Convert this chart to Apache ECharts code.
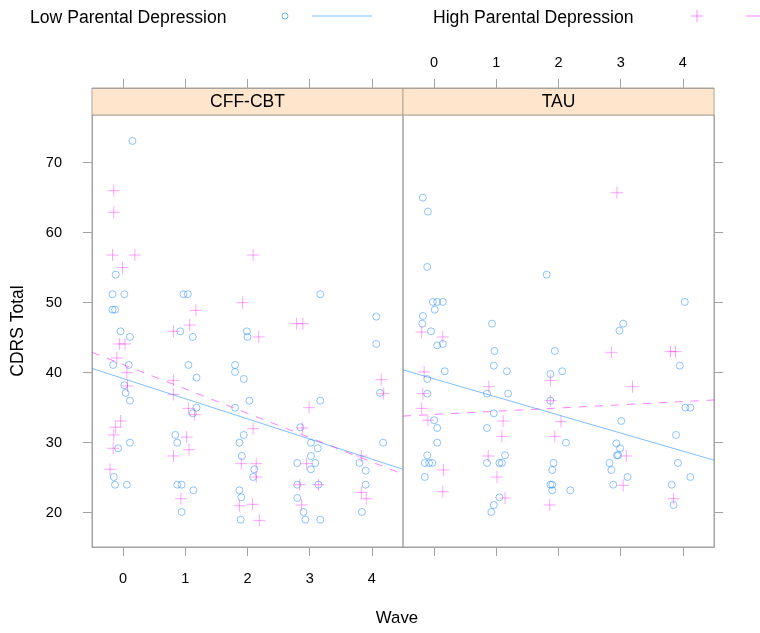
<!DOCTYPE html>
<html>
<head>
<meta charset="utf-8">
<script src="https://cdn.jsdelivr.net/npm/echarts@6/dist/echarts.min.js"></script>
<style>
  html, body { margin: 0; padding: 0; background: #fff; }
  #chart { width: 760px; height: 633px; }
</style>
</head>
<body>
<div id="chart"></div>
<script>
// panels and tick labels
const panels = ['CFF-CBT', 'TAU'];
const waveTicks = [0, 1, 2, 3, 4];
const scoreTicks = [20, 30, 40, 50, 60, 70];

// CFF-CBT, low parental depression (wave jittered, CDRS total)
const cffLow = [
  [0.15, 73.1], [-0.12, 54.0], [-0.17, 51.2], [0.02, 51.2], [-0.17, 49.0], [-0.13, 49.0],
  [-0.04, 45.9], [0.11, 45.1], [-0.16, 41.1], [0.09, 41.1], [0.02, 38.2], [0.04, 37.1],
  [0.11, 36.0], [0.11, 30.0], [-0.08, 29.2], [-0.15, 25.1], [-0.13, 24.0], [0.06, 24.0],
  [0.97, 51.2], [1.04, 51.2], [0.92, 45.9], [1.12, 45.1], [1.05, 41.1], [1.18, 39.3],
  [1.18, 35.0], [1.12, 34.2], [0.84, 31.1], [0.87, 30.0], [0.87, 24.0], [0.94, 24.0],
  [1.13, 23.2], [0.94, 20.1],
  [1.99, 45.9], [2.00, 45.1], [1.80, 41.1], [1.80, 40.1], [1.94, 39.1], [2.03, 36.0],
  [1.80, 35.0], [1.94, 31.1], [1.87, 30.0], [1.91, 28.1], [1.87, 23.2], [1.90, 22.2],
  [1.89, 19.0], [2.11, 26.2], [2.09, 25.1],
  [3.17, 51.2], [2.85, 32.2], [3.17, 36.0], [3.02, 30.0], [3.13, 29.2], [3.02, 28.1],
  [2.80, 27.1], [3.09, 27.1], [3.02, 26.2], [2.80, 24.0], [3.14, 24.0], [2.80, 22.1],
  [2.90, 20.1], [2.93, 19.0], [3.17, 19.0],
  [4.07, 48.0], [4.07, 44.1], [4.13, 37.1], [4.18, 30.0], [3.80, 27.1], [3.90, 26.0],
  [3.90, 24.0], [3.84, 20.1]
];

// CFF-CBT, high parental depression
const cffHigh = [
  [-0.15, 66.0], [-0.15, 62.9], [-0.17, 56.8], [0.19, 56.8], [-0.01, 55.0], [-0.06, 44.1],
  [0.03, 44.1], [-0.10, 42.1], [0.06, 40.0], [0.07, 38.1], [-0.04, 33.1], [-0.12, 32.2],
  [-0.15, 31.1], [-0.16, 29.2], [-0.21, 26.2],
  [1.17, 48.9], [1.07, 46.8], [0.81, 45.9], [0.81, 38.9], [0.81, 36.9], [1.05, 34.9],
  [1.15, 34.0], [1.02, 30.8], [1.06, 29.0], [0.81, 28.1], [0.93, 22.0],
  [2.09, 56.8], [1.92, 50.0], [2.18, 45.1], [1.90, 27.0], [1.87, 21.0], [2.09, 32.0],
  [2.14, 27.0], [2.14, 25.1], [2.08, 21.2], [2.19, 18.9],
  [2.79, 47.0], [2.89, 47.0], [2.99, 35.0], [2.88, 32.1], [2.95, 27.0], [2.84, 24.0],
  [3.14, 24.0], [2.87, 21.1],
  [4.15, 39.0], [4.19, 37.0], [3.83, 28.1], [3.83, 22.9], [3.91, 22.0]
];

// TAU, low parental depression
const tauLow = [
  [-0.18, 65.0], [-0.10, 63.0], [-0.11, 55.1], [-0.02, 50.1], [0.05, 50.1], [0.14, 50.1],
  [0.01, 49.0], [-0.18, 48.1], [-0.19, 47.0], [-0.05, 45.9], [0.05, 43.9], [0.14, 44.1],
  [0.17, 40.2], [-0.11, 39.1], [-0.11, 37.0], [0.00, 33.2], [0.05, 32.1], [0.05, 30.0],
  [-0.11, 28.2], [-0.15, 27.1], [-0.08, 27.1], [-0.03, 27.1], [-0.15, 25.1],
  [0.93, 47.0], [0.97, 43.1], [0.96, 41.0], [1.17, 40.2], [0.85, 37.0], [1.19, 37.0],
  [0.96, 34.2], [0.85, 32.1], [1.14, 28.2], [0.85, 27.1], [1.05, 27.1], [1.09, 27.1],
  [1.05, 22.2], [0.96, 21.1], [0.92, 20.1],
  [1.81, 54.0], [1.94, 43.1], [1.87, 39.8], [1.87, 36.0], [2.06, 40.2], [1.92, 27.1],
  [1.90, 26.1], [1.87, 24.0], [1.90, 24.0], [1.90, 23.2], [2.12, 30.0], [2.19, 23.2],
  [3.04, 47.0], [2.98, 46.0], [3.01, 33.1], [2.93, 29.9], [2.99, 29.2], [2.94, 28.2],
  [2.96, 28.2], [2.82, 27.1], [2.85, 26.1], [3.11, 25.1], [2.88, 24.0],
  [4.03, 50.1], [3.95, 41.0], [4.04, 35.0], [4.12, 35.0], [3.89, 31.1], [3.92, 27.1],
  [4.12, 25.1], [3.82, 24.0], [3.85, 21.1]
];

// TAU, high parental depression
const tauHigh = [
  [-0.20, 45.8], [0.14, 45.1], [-0.16, 40.1], [-0.18, 37.0], [-0.20, 34.9], [-0.10, 33.2],
  [0.15, 26.1], [0.14, 23.0],
  [0.88, 38.0], [1.11, 33.1], [1.09, 30.9], [0.87, 28.1], [1.01, 25.1], [1.14, 22.1],
  [1.87, 38.9], [1.87, 36.0], [1.94, 30.9], [1.86, 21.1], [2.04, 33.0],
  [2.94, 65.7], [2.85, 42.9], [3.19, 38.0], [3.09, 28.1], [3.04, 23.9],
  [3.80, 43.0], [3.88, 43.0], [3.85, 22.0]
];

// fitted lines (ends at the panel edges)
const cffLowFit = [[-0.5, 40.6], [4.5, 26.2]];
const cffHighFit = [[-0.5, 42.9], [4.5, 25.5]];
const tauLowFit = [[-0.5, 40.4], [4.5, 27.5]];
const tauHighFit = [[-0.5, 33.8], [4.5, 36.1]];

const BLUE = 'rgba(0,120,245,0.55)';
const PINK = 'rgba(255,0,255,0.45)';
const BORDER = '#a3a3a3';
const FONT = 'Liberation Sans, Arial, sans-serif';
const PLUS = 'path://M0,5L10,5M5,0L5,10';

const STRIP_TOP = 88;
const PANEL_TOP = 115;
const PANEL_H = 432;
const PANEL_W = 311;
const lefts = [92, 403];

const chart = echarts.init(document.getElementById('chart'), null, { renderer: 'canvas' });

// top axes sit above the strip, like lattice does
const xAxis = (grid, position, labels) => ({
  type: 'value',
  gridIndex: grid,
  position: position,
  offset: position === 'top' ? PANEL_TOP - STRIP_TOP : 0,
  min: -0.5,
  max: 4.5,
  axisLine: { show: true, onZero: false, lineStyle: { color: BORDER } },
  axisTick: { show: true, inside: false, length: 9, customValues: waveTicks, lineStyle: { color: BORDER } },
  axisLabel: {
    show: labels,
    customValues: waveTicks,
    margin: position === 'top' ? 18 : 24,
    color: '#000',
    fontSize: 14.5,
    fontFamily: FONT
  },
  splitLine: { show: false }
});

const yAxis = (grid, position, labels) => ({
  type: 'value',
  gridIndex: grid,
  position: position,
  min: 15.1,
  max: 76.8,
  axisLine: { show: true, onZero: false, lineStyle: { color: BORDER } },
  axisTick: { show: true, inside: false, length: 9, customValues: scoreTicks, lineStyle: { color: BORDER } },
  axisLabel: {
    show: labels,
    customValues: scoreTicks,
    margin: 30,
    color: '#000',
    fontSize: 14.5,
    fontFamily: FONT
  },
  splitLine: { show: false }
});

const points = (data, xi, yi, hi) => ({
  type: 'scatter',
  xAxisIndex: xi,
  yAxisIndex: yi,
  data: data,
  silent: true,
  symbol: hi ? PLUS : 'circle',
  symbolSize: hi ? 12 : 7,
  itemStyle: {
    color: 'transparent',
    borderColor: hi ? PINK : BLUE,
    borderWidth: 1
  }
});

const fitLine = (data, xi, yi, hi) => ({
  type: 'line',
  xAxisIndex: xi,
  yAxisIndex: yi,
  data: data,
  silent: true,
  symbol: 'none',
  lineStyle: {
    color: hi ? 'rgba(255,0,255,0.5)' : 'rgba(0,128,255,0.5)',
    width: 1,
    type: hi ? [8, 8] : 'solid'
  }
});

const strips = [];
panels.forEach((name, i) => {
  strips.push({
    type: 'rect',
    shape: { x: lefts[i], y: STRIP_TOP, width: PANEL_W, height: PANEL_TOP - STRIP_TOP },
    style: { fill: '#ffe5cc', stroke: '#b5a592', lineWidth: 1 }
  });
  strips.push({
    type: 'text',
    x: lefts[i] + PANEL_W / 2,
    y: 102,
    style: { text: name, fontSize: 17.5, fontFamily: FONT, fill: '#000', align: 'center', verticalAlign: 'middle' }
  });
});

const legend = [
  {
    type: 'text', x: 30, y: 18,
    style: { text: 'Low Parental Depression', fontSize: 17.6, fontFamily: FONT, fill: '#000', align: 'left', verticalAlign: 'middle' }
  },
  { type: 'circle', shape: { cx: 285, cy: 16, r: 3 }, style: { fill: 'none', stroke: BLUE, lineWidth: 1 } },
  { type: 'line', shape: { x1: 312, y1: 16, x2: 372, y2: 16 }, style: { stroke: 'rgba(0,128,255,0.5)', lineWidth: 1 } },
  {
    type: 'text', x: 433, y: 18,
    style: { text: 'High Parental Depression', fontSize: 17.6, fontFamily: FONT, fill: '#000', align: 'left', verticalAlign: 'middle' }
  },
  { type: 'line', shape: { x1: 691, y1: 16, x2: 703, y2: 16 }, style: { stroke: PINK, lineWidth: 1 } },
  { type: 'line', shape: { x1: 697, y1: 10, x2: 697, y2: 22 }, style: { stroke: PINK, lineWidth: 1 } },
  { type: 'line', shape: { x1: 746, y1: 16, x2: 760, y2: 16 }, style: { stroke: 'rgba(255,0,255,0.5)', lineWidth: 1 } }
];

const titles = [
  {
    type: 'text', x: 397, y: 618,
    style: { text: 'Wave', fontSize: 16.8, fontFamily: FONT, fill: '#000', align: 'center', verticalAlign: 'middle' }
  },
  {
    type: 'text', x: 18, y: 331, rotation: Math.PI / 2,
    style: { text: 'CDRS Total', fontSize: 17.5, fontFamily: FONT, fill: '#000', align: 'center', verticalAlign: 'middle' }
  }
];

chart.setOption({
  backgroundColor: '#fff',
  animation: false,
  grid: lefts.map(l => ({
    left: l,
    top: PANEL_TOP,
    width: PANEL_W,
    height: PANEL_H,
    show: true,
    borderColor: BORDER,
    borderWidth: 1,
    backgroundColor: 'transparent',
    containLabel: false,
    outerBoundsMode: 'none'
  })),
  xAxis: [
    xAxis(0, 'bottom', true),
    xAxis(0, 'top', false),
    xAxis(1, 'top', true),
    xAxis(1, 'bottom', false)
  ],
  yAxis: [
    yAxis(0, 'left', true),
    yAxis(1, 'right', false)
  ],
  series: [
    points(cffLow, 0, 0, false),
    points(cffHigh, 0, 0, true),
    fitLine(cffLowFit, 0, 0, false),
    fitLine(cffHighFit, 0, 0, true),
    points(tauLow, 2, 1, false),
    points(tauHigh, 2, 1, true),
    fitLine(tauLowFit, 2, 1, false),
    fitLine(tauHighFit, 2, 1, true)
  ],
  graphic: strips.concat(legend, titles)
});
</script>
</body>
</html>
